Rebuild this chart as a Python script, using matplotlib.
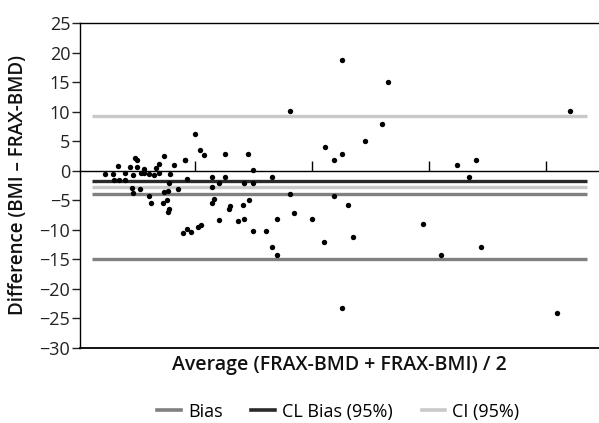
import matplotlib
matplotlib.use("Agg")
import matplotlib.pyplot as plt
import numpy as np

plt.rcParams["font.family"] = ["Open Sans", "DejaVu Sans"]

# ── data ─────────────────────────────────────────────────────────────────
avg = [
    2.3, 3.0, 3.4, 3.1, 3.5, 4.0, 4.0, 4.5, 4.9, 5.1, 4.7, 5.1, 4.6, 4.7,
    5.3, 5.7, 5.4, 5.7, 6.1, 6.1, 6.3, 6.5, 6.7, 6.9, 6.9, 7.4, 7.4, 7.7,
    7.8, 7.9, 8.2, 8.6, 7.3, 7.6, 7.8, 7.7, 9.2, 9.3, 9.0, 9.3,
    10.0, 10.4, 10.8, 9.2, 12.6, 14.5, 11.5, 12.6, 12.1, 11.5, 14.2, 15.0,
    15.0, 16.6, 11.6, 11.5, 13.0, 12.9, 14.1, 14.6, 12.1, 14.2, 13.7, 17.0,
    9.7, 10.3, 10.5, 15.0, 16.1, 18.5, 16.6, 17.0, 20.0, 18.1, 18.1,
    21.1, 21.9, 22.6, 22.6, 24.5, 26.0, 26.5, 21.9, 23.1, 21.0, 23.5,
    22.6, 29.5, 31.0, 34.4, 32.4, 34.0, 33.4, 42.0, 40.9,
]
diff = [
    -0.6, -0.6, 0.8, -1.6, -1.6, -1.6, -0.4, 0.6, 2.1, 1.9, -0.8, 0.6,
    -3.0, -3.8, -3.1, 0.3, -0.3, -0.4, -0.6, -4.3, -5.5, -0.8, 0.4, 1.1,
    -0.4, 2.5, -3.6, -3.5, -2.1, -0.6, 0.9, -3.1, -5.5, -5.0, -6.5, -7.0,
    1.9, -1.4, -10.6, -9.9,
    6.2, 3.5, 2.6, 1.9, 2.8, 2.8, -1.1, -1.1, -2.1, -2.8, -2.1, 0.1,
    -2.1, -1.1, -4.8, -5.5, -6.0, -6.5, -5.8, -5.0, -8.4, -8.1, -8.6,
    -8.1, -10.4, -9.6, -9.2, -10.3, -10.3, -7.2, -13.0, -14.2, -8.1,
    10.1, -4.0,
    4.0, 1.9, 2.8, 18.7, 5.0, 7.9, 15.0, -4.3, -5.8, -12.1, -11.3,
    -23.3, -9.1, -14.2, -13.0, 0.9, 1.9, -1.1, 10.1, -24.2,
]

# horizontal reference levels and their colours
levels = [9.3, -1.8, -2.8, -4.0, -14.9]
level_colors = ["#c9c9c9", "#2a2a2a", "#c9c9c9", "#808080", "#808080"]
line_span = (1.2, 43.5)

legend_labels = ["Bias", "CL Bias (95%)", "CI (95%)"]
legend_colors = ["#808080", "#2a2a2a", "#c9c9c9"]

y_ticks = np.arange(-30, 26, 5)

# ── figure ───────────────────────────────────────────────────────────────
fig = plt.figure(figsize=(5.99, 4.23), dpi=100)
ax = fig.add_axes([0.1336, 0.178, 0.8664, 0.767])

for lv, col in zip(levels, level_colors):
    ax.hlines(lv, *line_span, colors=col, lw=2.4, zorder=2)

ax.scatter(avg, diff, s=15, color="black", zorder=3, linewidths=0)

ax.set_xlim(0.2, 44.5)
ax.set_ylim(-30, 25)

# x axis drawn through zero, ticks pointing up, no labels
ax.spines["bottom"].set_position(("data", 0))
ax.spines["right"].set_visible(False)
for s in ("bottom", "top", "left"):
    ax.spines[s].set_linewidth(1.0)
ax.axhline(-30, color="black", lw=1.3, clip_on=False)
ax.set_xticks([10, 20, 30, 40])
ax.tick_params(axis="x", direction="in", length=7, width=1.0,
               labelbottom=False)

ax.set_yticks(y_ticks)
ax.set_yticklabels([f"{v}".replace("-", "\u2212") for v in y_ticks])
ax.tick_params(axis="y", direction="out", length=6, width=1.0,
               labelsize=13, pad=1, colors="#222222")

ax.set_ylabel("Difference (BMI \u2013 FRAX-BMD)", fontsize=13.5,
              fontweight="semibold", color="#111111")
ax.yaxis.set_label_coords(-0.101, 0.5)
fig.text(0.567, 0.137, "Average (FRAX-BMD + FRAX-BMI) / 2", fontsize=14,
         fontweight="semibold", ha="center", va="center", color="#111111")

handles = [plt.Line2D([], [], color=c, lw=2.6) for c in legend_colors]
fig.legend(handles, legend_labels, loc="center", ncol=3,
           bbox_to_anchor=(0.565, 0.027), frameon=False, fontsize=13,
           handlelength=1.3, handletextpad=0.4, columnspacing=1.6)

fig.savefig("out.png", dpi=100)
